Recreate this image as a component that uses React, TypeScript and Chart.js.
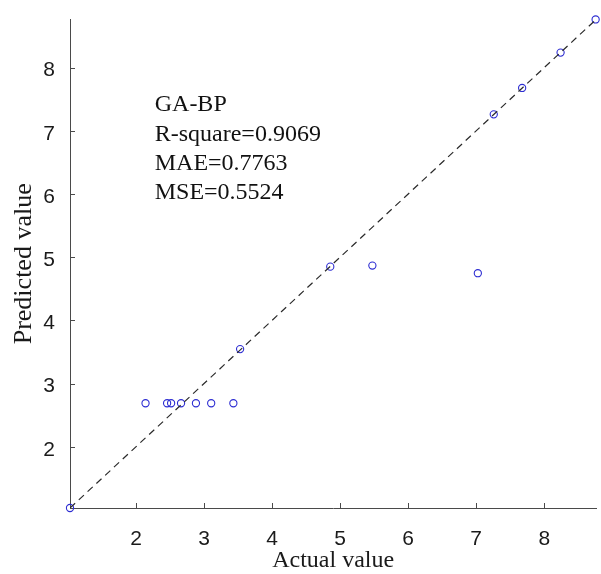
import React, { useEffect, useRef } from "react";
import { Chart, registerables } from "chart.js";

Chart.register(...registerables);

const actualValues = [1.03, 2.14, 2.457, 2.516, 2.662, 2.881, 3.105, 3.431, 3.53, 4.855, 5.474, 7.024, 7.258, 7.675, 8.24, 8.755];
const predictedValues = [1.03, 2.688, 2.688, 2.688, 2.688, 2.688, 2.688, 2.688, 3.545, 4.85, 4.867, 4.746, 7.26, 7.678, 8.238, 8.762];
const refLine = [1.03, 8.762];
const xTickValues = [2, 3, 4, 5, 6, 7, 8];
const yTickValues = [2, 3, 4, 5, 6, 7, 8];
const xRange = [1.03, 8.765];
const yRange = [1.03, 8.76];
const annotationLines = ["GA-BP", "R-square=0.9069", "MAE=0.7763", "MSE=0.5524"];
const annotationAnchor = { x: 2.275, y: 7.307 };

const AXIS_COLOR = "#4a4a4a";
const SANS = "'Liberation Sans', Arial, sans-serif";
const SERIF = "'Liberation Serif', 'Times New Roman', serif";

const innerTicks = {
  id: "innerTicks",
  afterDraw(chart: any) {
    const ctx = chart.ctx;
    const xs = chart.scales.x;
    const ys = chart.scales.y;
    const area = chart.chartArea;
    ctx.save();
    ctx.strokeStyle = AXIS_COLOR;
    ctx.lineWidth = 1;
    ctx.beginPath();
    xs.ticks.forEach((t: any) => {
      const px = Math.round(xs.getPixelForValue(t.value)) + 0.5;
      ctx.moveTo(px, area.bottom);
      ctx.lineTo(px, area.bottom - 5);
    });
    ys.ticks.forEach((t: any) => {
      const py = Math.round(ys.getPixelForValue(t.value)) + 0.5;
      ctx.moveTo(area.left, py);
      ctx.lineTo(area.left + 5, py);
    });
    ctx.stroke();
    ctx.restore();
  },
};

const annotation = {
  id: "annotationText",
  afterDraw(chart: any) {
    const ctx = chart.ctx;
    const x = chart.scales.x.getPixelForValue(annotationAnchor.x);
    const y = chart.scales.y.getPixelForValue(annotationAnchor.y);
    ctx.save();
    ctx.fillStyle = "#111";
    ctx.font = `24px ${SERIF}`;
    ctx.textAlign = "left";
    ctx.textBaseline = "alphabetic";
    annotationLines.forEach((line, i) => {
      ctx.fillText(line, x, y + i * 29.2);
    });
    ctx.restore();
  },
};

export default function App() {
  const canvasRef = useRef<HTMLCanvasElement | null>(null);

  useEffect(() => {
    if (!canvasRef.current) return;
    const chart = new Chart(canvasRef.current, {
      type: "scatter",
      data: {
        datasets: [
          {
            type: "line",
            data: refLine.map((v) => ({ x: v, y: v })),
            borderColor: "#2a2a2a",
            borderWidth: 1.2,
            borderDash: [7, 5],
            pointRadius: 0,
            fill: false,
          } as any,
          {
            data: actualValues.map((v, i) => ({ x: v, y: predictedValues[i] })),
            pointRadius: 3.6,
            pointHoverRadius: 3.6,
            pointBorderWidth: 1.1,
            borderColor: "rgb(45,45,210)",
            backgroundColor: "rgba(0,0,0,0)",
            pointStyle: "circle",
            clip: false,
          } as any,
        ],
      },
      options: {
        animation: false,
        responsive: false,
        maintainAspectRatio: false,
        events: [],
        layout: { padding: { top: 15, right: 2, left: 0, bottom: 0 } },
        plugins: {
          legend: { display: false },
          tooltip: { enabled: false },
        },
        scales: {
          x: {
            type: "linear",
            min: xRange[0],
            max: xRange[1],
            grid: { display: false },
            border: { display: true, color: AXIS_COLOR, width: 1 },
            afterBuildTicks: (s: any) => {
              s.ticks = xTickValues.map((v) => ({ value: v }));
            },
            afterFit: (s: any) => {
              s.height = 66;
            },
            ticks: {
              color: "#1a1a1a",
              font: { family: SANS, size: 21 },
              padding: 11,
              maxRotation: 0,
              autoSkip: false,
            },
            title: {
              display: true,
              text: "Actual value",
              color: "#1a1a1a",
              font: { family: SERIF, size: 24, lineHeight: 1 },
              padding: { top: 0, bottom: 1 },
            },
          },
          y: {
            type: "linear",
            min: yRange[0],
            max: yRange[1],
            grid: { display: false },
            border: { display: true, color: AXIS_COLOR, width: 1 },
            afterBuildTicks: (s: any) => {
              s.ticks = yTickValues.map((v) => ({ value: v }));
            },
            afterFit: (s: any) => {
              s.width = 70;
            },
            ticks: {
              color: "#1a1a1a",
              font: { family: SANS, size: 21 },
              padding: 7,
              labelOffset: 3,
              autoSkip: false,
            },
            title: {
              display: true,
              text: "Predicted value",
              color: "#1a1a1a",
              font: { family: SERIF, size: 26, lineHeight: 1 },
              padding: { top: 11, bottom: 0 },
            },
          },
        },
      },
      plugins: [innerTicks, annotation],
    });
    return () => chart.destroy();
  }, []);

  return (
    <div style={{ position: "fixed", left: 0, top: 0, width: 601, height: 574, background: "#fff" }}>
      <canvas ref={canvasRef} width={601} height={574} style={{ display: "block" }} />
    </div>
  );
}
